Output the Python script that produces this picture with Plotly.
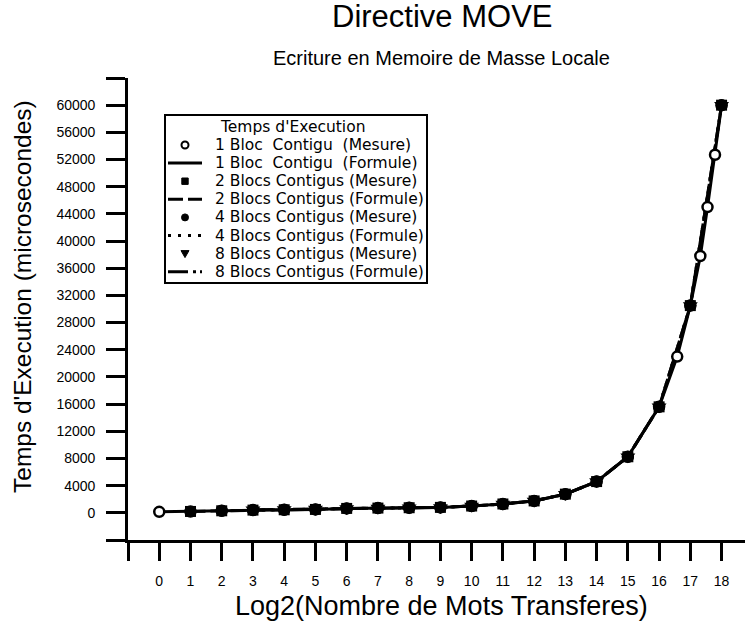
import plotly.graph_objects as go

# ---------------- data ----------------
x_1bloc = [0, 1, 2, 3, 4, 5, 6, 7, 8, 9, 10, 11, 12, 13, 14, 15, 16, 16.58, 17, 17.32, 17.55, 17.79, 18]
y_1bloc = [150, 200, 300, 400, 450, 500, 650, 700, 750, 800, 1000, 1300, 1750, 2750, 4600, 8250, 15600,
           23000, 30500, 37800, 45000, 52700, 60000]

x_2blocs = [1, 2, 3, 4, 5, 6, 7, 8, 9, 10, 11, 12, 13, 14, 15, 16, 17, 18]
y_2blocs = [200, 300, 400, 450, 500, 650, 700, 750, 800, 1000, 1300, 1750, 2750, 4600, 8250, 15600, 30500, 60000]

x_4blocs = [2, 3, 4, 5, 6, 7, 8, 9, 10, 11, 12, 13, 14, 15, 16, 17, 18]
y_4blocs = [300, 400, 450, 500, 650, 700, 750, 800, 1000, 1300, 1750, 2750, 4600, 8250, 15600, 30500, 60000]

x_8blocs = [3, 4, 5, 6, 7, 8, 9, 10, 11, 12, 13, 14, 15, 16, 17, 18]
y_8blocs = [450, 500, 550, 650, 700, 750, 800, 1000, 1300, 1750, 2750, 4600, 8250, 15600, 30500, 60000]

x_ticks = list(range(-1, 19))
x_ticktext = [""] + [str(v) for v in range(0, 19)]
y_ticks = list(range(-4000, 64001, 4000))
y_ticktext = [""] + [str(v) for v in range(0, 60001, 4000)] + [""]

legend_title = "Temps d'Execution"
names = [
    "1 Bloc  Contigu  (Mesure)", "1 Bloc  Contigu  (Formule)",
    "2 Blocs Contigus (Mesure)", "2 Blocs Contigus (Formule)",
    "4 Blocs Contigus (Mesure)", "4 Blocs Contigus (Formule)",
    "8 Blocs Contigus (Mesure)", "8 Blocs Contigus (Formule)",
]

FONT = "Liberation Sans, Arial, Helvetica, sans-serif"
LEGFONT = "DejaVu Sans, Liberation Sans, sans-serif"

# plot-area geometry in pixels (figure 755 x 623)
L, T, W, H = 128, 78, 617, 462
def px(xp):
    return (xp - L) / W
def py(yp):
    return (T + H - yp) / H

DASH_2 = "15px,5px"
DASH_4 = "3px,7px"
DASH_8 = "20px,5px,3px,4px,3px,5px"

fig = go.Figure()

# formula lines (drawn first, underneath the markers)
line_specs = [
    (x_1bloc, y_1bloc, names[1], "solid"),
    (x_2blocs, y_2blocs, names[3], DASH_2),
    (x_4blocs, y_4blocs, names[5], DASH_4),
    (x_8blocs, y_8blocs, names[7], DASH_8),
]
for xs, ys, nm, dash in line_specs:
    fig.add_trace(go.Scatter(x=xs, y=ys, mode="lines", name=nm, showlegend=False,
                             line=dict(color="black", width=3, dash=dash)))

# measured markers
fig.add_trace(go.Scatter(x=x_1bloc, y=y_1bloc, mode="markers", name=names[0], showlegend=False,
                         marker=dict(symbol="circle", size=10, color="white",
                                     line=dict(color="black", width=2.5))))
fig.add_trace(go.Scatter(x=x_2blocs, y=y_2blocs, mode="markers", name=names[2], showlegend=False,
                         marker=dict(symbol="square", size=11, color="black")))
fig.add_trace(go.Scatter(x=x_4blocs, y=y_4blocs, mode="markers", name=names[4], showlegend=False,
                         marker=dict(symbol="circle", size=12, color="black")))
fig.add_trace(go.Scatter(x=x_8blocs, y=y_8blocs, mode="markers", name=names[6], showlegend=False,
                         marker=dict(symbol="triangle-down", size=13, color="black")))

# ---------------- legend box drawn as layout decorations ----------------
shapes = [dict(type="rect", xref="paper", yref="paper", x0=px(165), x1=px(427), y0=py(283), y1=py(115),
               line=dict(color="black", width=2), fillcolor="white", layer="above")]
annotations = [dict(text=legend_title, xref="paper", yref="paper", x=px(218), y=py(127),
                    xanchor="left", yanchor="middle", showarrow=False,
                    font=dict(size=15.5, family=LEGFONT))]
row_y = [145 + i * 18.1 for i in range(8)]
line_dashes = {1: "solid", 3: DASH_2, 5: DASH_4, 7: DASH_8}
for i, nm in enumerate(names):
    yc = row_y[i]
    annotations.append(dict(text=nm, xref="paper", yref="paper", x=px(213), y=py(yc),
                            xanchor="left", yanchor="middle", showarrow=False,
                            font=dict(size=15.5, family=LEGFONT)))
    if i in line_dashes:
        shapes.append(dict(type="line", xref="paper", yref="paper", x0=px(168), x1=px(202),
                           y0=py(yc), y1=py(yc), line=dict(color="black", width=3, dash=line_dashes[i]),
                           layer="above"))
    else:
        base = dict(xref="paper", yref="paper", xsizemode="pixel", ysizemode="pixel",
                    xanchor=px(185), yanchor=py(yc), layer="above")
        if i == 0:
            shapes.append(dict(base, type="circle", x0=-3.5, x1=3.5, y0=-3.5, y1=3.5,
                               fillcolor="white", line=dict(color="black", width=2)))
        elif i == 2:
            shapes.append(dict(base, type="rect", x0=-3.2, x1=3.2, y0=-3.2, y1=3.2,
                               fillcolor="black", line=dict(color="black", width=1)))
        elif i == 4:
            shapes.append(dict(base, type="circle", x0=-3.5, x1=3.5, y0=-3.5, y1=3.5,
                               fillcolor="black", line=dict(color="black", width=1)))
        else:
            shapes.append(dict(base, type="path", path="M -4,3 L 4,3 L 0,-4 Z",
                               fillcolor="black", line=dict(color="black", width=1)))

annotations += [
    dict(text="Directive MOVE", xref="paper", yref="paper", x=px(442), y=py(16),
         xanchor="center", yanchor="middle", showarrow=False, font=dict(size=31)),
    dict(text="Ecriture en Memoire de Masse Locale", xref="paper", yref="paper", x=px(441), y=py(58),
         xanchor="center", yanchor="middle", showarrow=False, font=dict(size=20)),
    dict(text="Temps d'Execution (microsecondes)", xref="paper", yref="paper", x=px(22), y=py(297),
         xanchor="center", yanchor="middle", textangle=-90, showarrow=False, font=dict(size=24.5)),
    dict(text="Log2(Nombre de Mots Transferes)", xref="paper", yref="paper", x=px(441), y=py(606),
         xanchor="center", yanchor="middle", showarrow=False, font=dict(size=27)),
]

# small gap between the y tick labels and the tick marks
y_ticktext_padded = [t + "\u00a0\u00a0" if t else t for t in y_ticktext]

fig.update_layout(
    width=755, height=623,
    margin=dict(l=L, r=755 - L - W, t=T, b=623 - T - H),
    paper_bgcolor="white", plot_bgcolor="white",
    font=dict(family=FONT, color="black", size=14),
    showlegend=False,
    xaxis=dict(
        range=[-1, 18.75], tickvals=x_ticks, ticktext=x_ticktext,
        showgrid=False, zeroline=False, showline=True, linecolor="black", linewidth=3,
        ticks="outside", ticklen=18, tickwidth=3, tickcolor="black",
        tickfont=dict(size=14), ticklabelstandoff=8,
    ),
    yaxis=dict(
        range=[-4000, 64000], tickvals=y_ticks, ticktext=y_ticktext_padded,
        showgrid=False, zeroline=False, showline=True, linecolor="black", linewidth=3,
        ticks="outside", ticklen=19, tickwidth=3, tickcolor="black",
        tickfont=dict(size=14),
    ),
    shapes=shapes,
    annotations=annotations,
)

fig.write_html("out.html", config={"displayModeBar": False},
               post_script="document.body.style.margin='0px';")
